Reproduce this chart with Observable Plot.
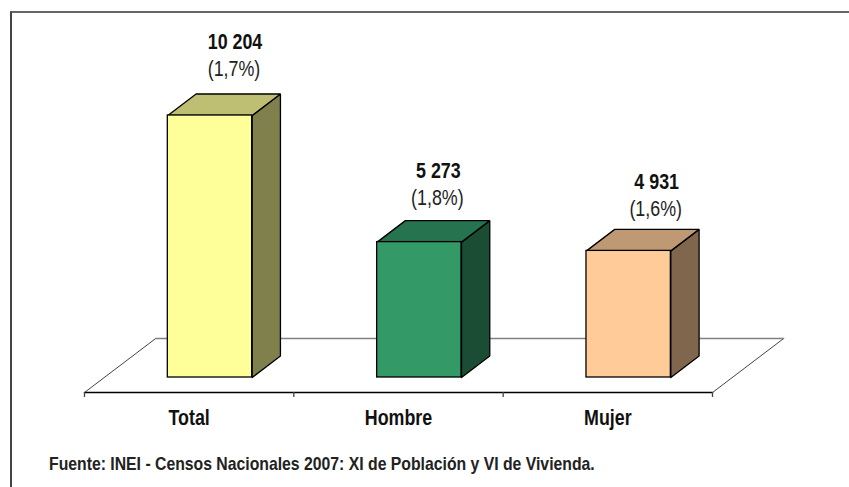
<!DOCTYPE html>
<html>
<head>
<meta charset="utf-8">
<script src="https://cdn.jsdelivr.net/npm/d3@7"></script>
<script src="https://cdn.jsdelivr.net/npm/@observablehq/plot@0.6"></script>
<style>
  html, body { margin: 0; padding: 0; background: #fff; }
  #wrap { position: relative; width: 849px; height: 487px; overflow: hidden; font-family: "Liberation Sans", sans-serif; }
  #frame { position: absolute; left: 10px; top: 11px; width: 845px; height: 490px; border-top: 2px solid #666; border-left: 2px solid #444; box-sizing: border-box; }
  #source { position: absolute; left: 49px; top: 453px; font-size: 19px; font-weight: 700; color: #222; white-space: nowrap; transform: scaleX(0.83); transform-origin: left center; }
</style>
</head>
<body>
<div id="wrap">
  <div id="chart"></div>
  <div id="frame"></div>
  <div id="source">Fuente: INEI - Censos Nacionales 2007: XI de Población y VI de Vivienda.</div>
</div>
<script>
const categories = ["Total", "Hombre", "Mujer"];
const values = [10204, 5273, 4931];
const valueLabels = ["10 204", "5 273", "4 931"];
const shareLabels = ["(1,7%)", "(1,8%)", "(1,6%)"];
const frontColors = ["#FFFF99", "#339966", "#FFCC99"];
const topColors = ["#BFBF73", "#267350", "#BF9973"];
const sideColors = ["#80804D", "#1A4D33", "#80664D"];

// Layout of the pseudo-3D box, in scale units
const perPixel = 10204 / 262;
const barStart = 0.398, barWidth = 0.403;
const depthX = 0.135, depthY = 21.5 * perPixel;
const floorFront = -15 * perPixel, floorBack = 39 * perPixel, floorShift = 0.34;
const labelNudge = [[24, -25], [18, -22.5], [27, -20]];
const narrow = 0.83;
const labelFont = 21.5;

const face = (pts, fill) =>
  Plot.line(pts, {x: "x", y: "y", fill, stroke: "#000", strokeWidth: 1.3, strokeLinejoin: "miter"});

const marks = [
  // floor
  Plot.line([
    {x: 0, y: floorFront}, {x: floorShift, y: floorBack},
    {x: 3 + floorShift, y: floorBack}, {x: 3, y: floorFront}, {x: 0, y: floorFront}
  ], {x: "x", y: "y", fill: "#fff", stroke: "#444", strokeWidth: 1}),
  Plot.line([{x: floorShift, y: floorBack}, {x: 3 + floorShift, y: floorBack}],
    {x: "x", y: "y", stroke: "#808080", strokeWidth: 1.3}),
  Plot.line([{x: 0, y: floorFront}, {x: 3, y: floorFront}],
    {x: "x", y: "y", stroke: "#000", strokeWidth: 1.5}),
  Plot.axisX({ticks: [0, 1, 2, 3], tickFormat: () => "", tickSize: 5, stroke: "#444", strokeWidth: 1.3, strokeOpacity: 1, label: null}),
  Plot.axisX({
    ticks: [0.5, 1.5, 2.5], tickFormat: d => categories[Math.floor(d)], tickSize: 0, tickPadding: 17,
    fontSize: labelFont, fontWeight: 700, fill: "#111", label: null,
    fontFamily: "Liberation Sans, sans-serif"
  })
];

categories.forEach((c, i) => {
  const x0 = i + barStart, x1 = x0 + barWidth, v = values[i];
  marks.push(
    face([{x: x1, y: 0}, {x: x1 + depthX, y: depthY}, {x: x1 + depthX, y: v + depthY}, {x: x1, y: v}, {x: x1, y: 0}], sideColors[i]),
    face([{x: x0, y: v}, {x: x0 + depthX, y: v + depthY}, {x: x1 + depthX, y: v + depthY}, {x: x1, y: v}, {x: x0, y: v}], topColors[i]),
    Plot.rect([{x0, x1, v}], {x1: "x0", x2: "x1", y1: 0, y2: "v", fill: frontColors[i], stroke: "#000", strokeWidth: 1.3})
  );
  const [ndx, ndy] = labelNudge[i];
  const at = [{x: x0 + barWidth / 2, y: v + depthY}];
  const font = {fontFamily: "Liberation Sans, sans-serif", fontSize: labelFont};
  marks.push(
    Plot.text(at, {x: "x", y: "y", text: () => shareLabels[i], dx: ndx, dy: ndy, fill: "#222", ...font}),
    Plot.text(at, {x: "x", y: "y", text: () => valueLabels[i], dx: ndx + 1, dy: ndy - 27, fill: "#111", fontWeight: 700, ...font})
  );
});

const chart = Plot.plot({
  width: 849, height: 487,
  marginLeft: 84, marginRight: 137, marginTop: 115, marginBottom: 95,
  x: {domain: [0, 3], axis: null},
  y: {domain: [floorFront, 10204], axis: null},
  style: {background: "#fff"},
  marks
});
document.getElementById("chart").appendChild(chart);

// Narrow the real text so it reads like the condensed face of the reference
chart.querySelectorAll("text").forEach(t => {
  const len = t.getComputedTextLength();
  if (len > 0) {
    t.setAttribute("textLength", len * narrow);
    t.setAttribute("lengthAdjust", "spacingAndGlyphs");
  }
});
</script>
</body>
</html>
